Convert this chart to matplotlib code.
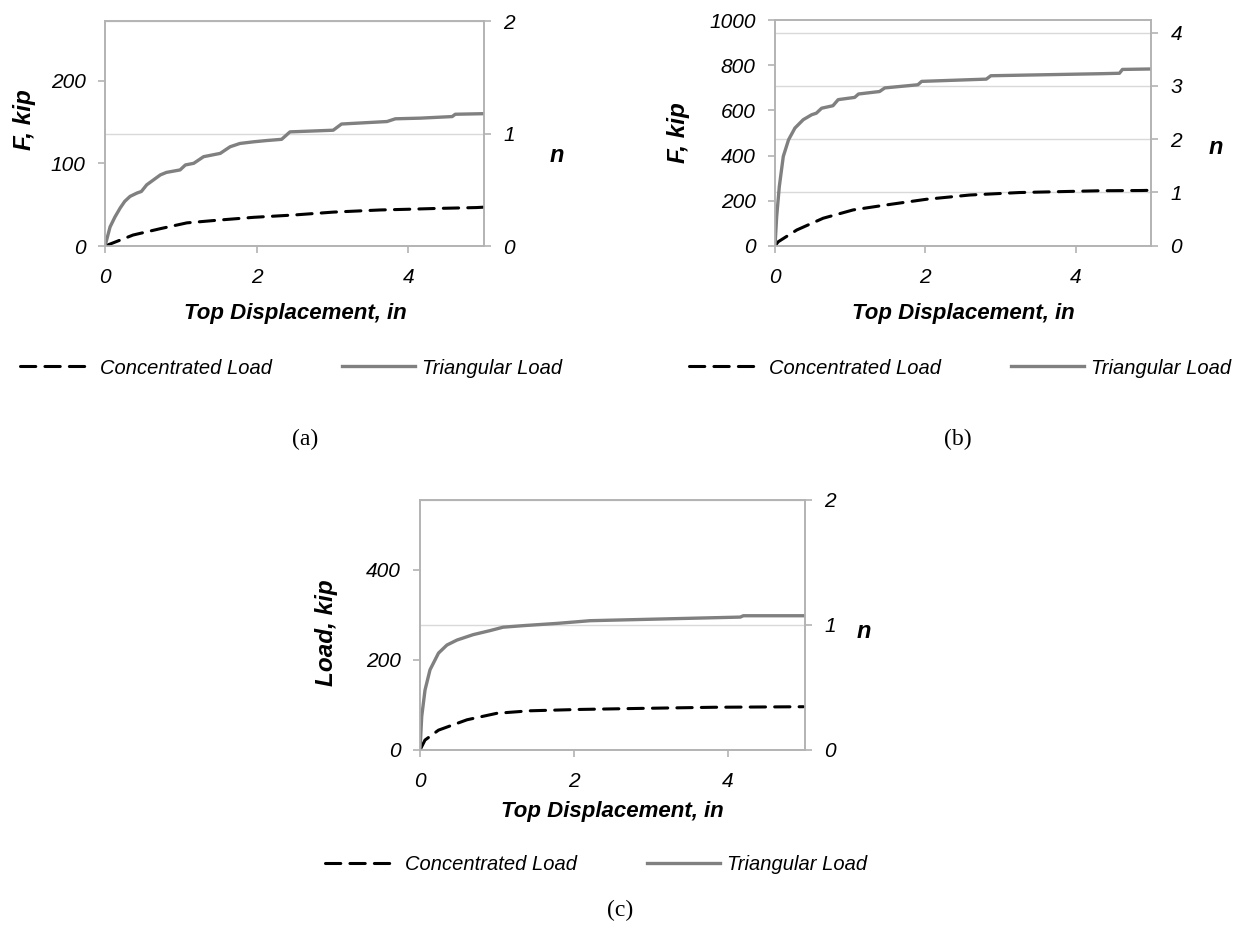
import numpy as np
import matplotlib.pyplot as plt

plt.rcParams['font.family'] = ['Liberation Sans', 'DejaVu Sans']

# ---- data (x = top displacement in, y = load kip) ----
# panel (a)
a_tri_x = [0, 0.066, 0.13, 0.2, 0.26, 0.33, 0.42, 0.48, 0.55, 0.64, 0.73, 0.81, 0.99, 1.06, 1.17, 1.30,
           1.52, 1.65, 1.78, 1.96, 2.13, 2.33, 2.44, 3.01, 3.12, 3.72, 3.83, 4.16, 4.58, 4.62, 5.0]
a_tri_y = [0, 23, 35, 46, 54, 60, 64, 66, 74, 80, 86, 89, 92, 98, 100, 108,
           112, 120, 124, 126, 127.5, 129, 138, 140, 147.5, 150.5, 153.8, 154.6, 156.5, 159.3, 160]
a_con_x = [0, 0.37, 0.73, 1.08, 1.52, 1.96, 2.49, 3.01, 3.63, 3.98, 4.4, 4.9, 5.0]
a_con_y = [0, 13.3, 21, 28, 31.5, 34.7, 37.5, 41, 43.6, 44.4, 45.5, 46.5, 47]

# panel (b)
b_tri_x = [0, 0.022, 0.057, 0.11, 0.18, 0.265, 0.375, 0.487, 0.55, 0.62, 0.77, 0.84, 1.06, 1.11,
           1.39, 1.46, 1.90, 1.95, 2.81, 2.87, 3.52, 4.33, 4.58, 4.62, 5.0]
b_tri_y = [0, 129, 262, 396, 470, 522, 559, 581, 588, 610, 621, 648, 658, 673,
           684, 700, 714, 729, 739, 754, 758, 763, 765, 782, 784]
b_con_x = [0, 0.044, 0.29, 0.64, 1.04, 1.48, 2.01, 2.59, 3.25, 4.33, 4.88, 5.0]
b_con_y = [0, 18, 70, 122, 159, 181, 206, 225, 236, 244, 245, 246]

# panel (c)
c_tri_x = [0, 0.022, 0.065, 0.13, 0.24, 0.35, 0.48, 0.69, 0.91, 1.08, 1.34, 1.78, 2.21, 2.94,
           4.16, 4.2, 5.0]
c_tri_y = [0, 74, 133, 178, 215, 233, 244, 256, 265, 272.6, 276, 281, 287, 290,
           295, 298, 298]
c_con_x = [0, 0.065, 0.24, 0.61, 1.0, 1.43, 2.08, 2.94, 3.81, 4.98]
c_con_y = [0, 22, 44, 67, 81.5, 87, 90, 92.5, 94.8, 96]

x_ticks = [0, 2, 4]
panels = [
    dict(rect=[0.0845, 0.7391, 0.3049, 0.2386], tri=(a_tri_x, a_tri_y), con=(a_con_x, a_con_y),
         ylim=272, yticks=[0, 100, 200], nlim=2, nticks=[0, 1, 2], ylabel='F, kip',
         ylab_xy=(25, 120), xlab_xy=(295, 314), n_xy=(557, 155), leg_xy=(291, 368),
         tag='(a)', tag_xy=(305, 439)),
    dict(rect=[0.6235, 0.7394, 0.3025, 0.2391], tri=(b_tri_x, b_tri_y), con=(b_con_x, b_con_y),
         ylim=1000, yticks=[0, 200, 400, 600, 800, 1000], nlim=4.23, nticks=[0, 1, 2, 3, 4],
         ylabel='F, kip', ylab_xy=(678, 133), xlab_xy=(963, 314), n_xy=(1216, 147),
         leg_xy=(960, 368), tag='(b)', tag_xy=(958, 439)),
    dict(rect=[0.3379, 0.2047, 0.3097, 0.2651], tri=(c_tri_x, c_tri_y), con=(c_con_x, c_con_y),
         ylim=555, yticks=[0, 200, 400], nlim=2, nticks=[0, 1, 2], ylabel='Load, kip',
         ylab_xy=(327, 633), xlab_xy=(612, 812), n_xy=(864, 632), leg_xy=(596, 865),
         tag='(c)', tag_xy=(620, 910)),
]

W, H = 1243, 943
fig = plt.figure(figsize=(W / 100, H / 100), dpi=100)

spine_c = '#b3b3b3'
grid_c = '#d9d9d9'

def fx(px):
    return px / W

def fy(py):
    return 1 - py / H

for p in panels:
    ax = fig.add_axes(p['rect'])
    ax2 = ax.twinx()
    # lines on top of the n gridlines
    ax.set_zorder(ax2.get_zorder() + 1)
    ax.patch.set_visible(False)

    l1, = ax.plot(p['con'][0], p['con'][1], color='black', lw=2.2, dashes=(5, 3),
                  dash_capstyle='round', label='Concentrated Load')
    l2, = ax.plot(p['tri'][0], p['tri'][1], color='#808080', lw=2.4, label='Triangular Load')

    ax.set_xlim(0, 5)
    ax.set_ylim(0, p['ylim'])
    ax.set_xticks(x_ticks)
    ax.set_yticks(p['yticks'])
    ax2.set_ylim(0, p['nlim'])
    ax2.set_yticks(p['nticks'])
    ax2.yaxis.grid(True, color=grid_c, lw=1)
    ax2.set_axisbelow(True)

    for a in (ax, ax2):
        for s in a.spines.values():
            s.set_color(spine_c)
            s.set_linewidth(1.2)
        a.tick_params(colors=spine_c, labelcolor='black', labelsize=15, length=5, width=1.2,
                      pad=9)
        for t in a.get_xticklabels() + a.get_yticklabels():
            t.set_fontstyle('italic')
    ax.tick_params(axis='x', pad=11)

    fig.text(fx(p['ylab_xy'][0]), fy(p['ylab_xy'][1]), p['ylabel'], rotation=90,
             ha='center', va='center', fontsize=17.5, fontweight='bold', fontstyle='italic')
    fig.text(fx(p['xlab_xy'][0]), fy(p['xlab_xy'][1]), 'Top Displacement, in',
             ha='center', va='center', fontsize=16, fontweight='bold', fontstyle='italic')
    fig.text(fx(p['n_xy'][0]), fy(p['n_xy'][1]), 'n',
             ha='center', va='center', fontsize=17, fontweight='bold', fontstyle='italic')
    fig.legend(handles=[l1, l2], loc='center', ncol=2, frameon=False,
               bbox_to_anchor=(fx(p['leg_xy'][0]), fy(p['leg_xy'][1])),
               prop=dict(size=14.5, style='italic'), handlelength=3.6, handletextpad=0.35,
               columnspacing=3.5)
    fig.text(fx(p['tag_xy'][0]), fy(p['tag_xy'][1]), p['tag'], ha='center', va='center',
             fontsize=17, family='Liberation Serif')

fig.savefig('out.png', dpi=100)
